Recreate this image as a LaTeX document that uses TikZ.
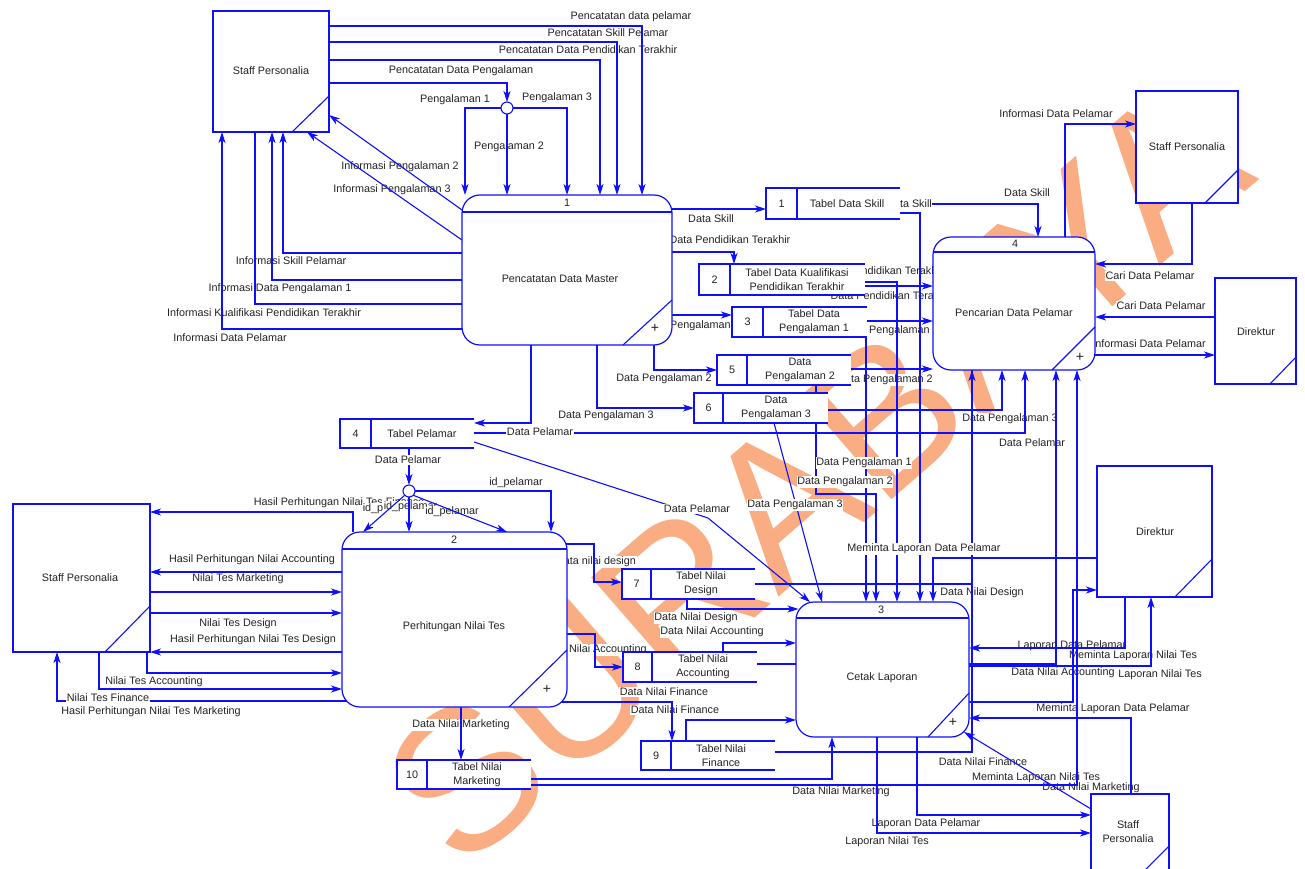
\documentclass[tikz,border=0pt]{standalone}
\usepackage{fontspec}
\setmainfont{Liberation Sans}
\usetikzlibrary{arrows.meta,fit}
\definecolor{dfd}{RGB}{15,15,252}
\definecolor{txt}{RGB}{35,35,35}
\definecolor{wm}{RGB}{250,172,130}
\pgfdeclarelayer{wmlayer}
\pgfdeclarelayer{lablayer}
\pgfdeclarelayer{labtop}
\pgfdeclarelayer{shapes}
\pgfsetlayers{wmlayer,lablayer,main,labtop,shapes}
% data store: name, x1, y1, x2, y2, divider x, number, text x, text
\newcommand\dstore[9]{%
  \node[store, fit={(#2,#3)(#4,#5)}] (#1) {};
  \draw[sline] (#1.north east) -- (#1.north west) -- (#1.south west) -- (#1.south east);
  \draw[sline] (#6,#3) -- (#6,#5);
  \node[tx] (#1n) at ({(#2+#6)/2},{(#3+#5)/2}) {#7};
  \node[tx] (#1t) at (#8,{(#3+#5)/2}) {#9};}
\begin{document}
\begin{tikzpicture}[x=1pt,y=-1pt,
  font=\fontsize{10.8}{14}\selectfont,
  ln/.style={draw=dfd, line width=1.1pt},
  fl/.style={ln, -{Stealth[length=11pt,width=7pt,inset=3pt]}},
  lb/.style={text=txt, fill=white, inner sep=0.6pt},
  tx/.style={text=txt, inner sep=0pt, align=center},
  ent/.style={draw=dfd, fill=white, line width=1.3pt, inner sep=0pt, outer sep=0pt},
  entb/.style={ent, line width=2.6pt},
  proc/.style={draw=dfd, fill=white, rounded corners=18pt, line width=1.2pt, inner sep=0pt, outer sep=0pt},
  store/.style={fill=white, inner sep=0pt, outer sep=0pt},
  sline/.style={draw=dfd, line width=1.2pt},
  jn/.style={circle, draw=dfd, fill=white, line width=1.1pt, minimum size=12pt, inner sep=0pt, outer sep=0pt},
  plus/.style={text=txt, inner sep=0pt, font=\fontsize{14}{14}\selectfont},
]
\useasboundingbox (0,0) rectangle (1305,869);

% ---------- watermark ----------
\begin{pgfonlayer}{wmlayer}
\node[text=wm, rotate=41, inner sep=0pt, font=\fontsize{200}{200}\selectfont] (wmark) at (815,475) {SURABAYA};
\end{pgfonlayer}

% ---------- shapes ----------
\begin{pgfonlayer}{shapes}
% external entities
\node[ent, fit={(213,11)(329,132)}] (E1) {};
\draw[ln] (E1.east |- 0,96) -- (292,0 |- E1.south);
\node[tx] (E1t) at (271,71) {Staff Personalia};

\node[ent, fit={(1136,91)(1238,203)}] (E2) {};
\draw[ln] (E2.east |- 0,170) -- (1205,0 |- E2.south);
\node[tx] (E2t) at (1187,147) {Staff Personalia};

\node[ent, fit={(1215,278)(1296,384)}] (E3) {};
\draw[ln] (E3.east |- 0,357) -- (1270,0 |- E3.south);
\node[tx] (E3t) at (1256,332) {Direktur};

\node[entb, fit={(13,504)(150,652)}] (E4) {};
\draw[ln] (E4.east |- 0,606) -- (105,0 |- E4.south);
\node[tx] (E4t) at (80,578) {Staff Personalia};

\node[entb, fit={(1097,466)(1212,597)}] (E5) {};
\draw[ln] (E5.east |- 0,559) -- (1175,0 |- E5.south);
\node[tx] (E5t) at (1155,532) {Direktur};

\node[entb, line width=2pt, fit={(1091,794)(1169,885)}] (E6) {};
\draw[ln] (E6.east |- 0,846) -- (1144,871);
\node[tx] (E6t) at (1128,832) {Staff\\Personalia};

% processes
\node[proc, fit={(462,195)(672,345)}] (P1) {};
\draw[ln] (P1.west |- 0,212) -- (P1.east |- 0,212);
\draw[ln] (P1.east |- 0,300) -- (623,0 |- P1.south);
\node[tx] (P1n) at (567,203) {1};
\node[tx] (P1t) at (560,279) {Pencatatan Data Master};
\node[plus] (P1p) at (655,328) {+};

\node[proc, fit={(933,237)(1095,370)}] (P4) {};
\draw[ln] (P4.west |- 0,252) -- (P4.east |- 0,252);
\draw[ln] (P4.east |- 0,327) -- (1052,0 |- P4.south);
\node[tx] (P4n) at (1015,244) {4};
\node[tx] (P4t) at (1014,313) {Pencarian Data Pelamar};
\node[plus] (P4p) at (1080,357) {+};

\node[proc, fit={(342,532)(567,707)}] (P2) {};
\draw[ln] (P2.west |- 0,549) -- (P2.east |- 0,549);
\draw[ln] (P2.east |- 0,650) -- (509,0 |- P2.south);
\node[tx] (P2n) at (454,540) {2};
\node[tx] (P2t) at (454,627) {Perhitungan Nilai Tes};
\node[plus] (P2p) at (547,689) {+};

\node[proc, fit={(796,602)(969,737)}] (P3) {};
\draw[ln] (P3.west |- 0,618) -- (P3.east |- 0,618);
\draw[ln] (P3.east |- 0,693) -- (928,0 |- P3.south);
\node[tx] (P3n) at (881,610) {3};
\node[tx] (P3t) at (882,678) {Cetak Laporan};
\node[plus] (P3p) at (953,722) {+};

% data stores
\dstore{T1}{766}{188}{900}{219}{797}{1}{847}{Tabel Data Skill}
\dstore{T2}{699}{264}{865}{295}{730}{2}{797}{Tabel Data Kualifikasi\\Pendidikan Terakhir}
\dstore{T3}{732}{307}{867}{337}{763}{3}{814}{Tabel Data\\Pengalaman 1}
\dstore{T5}{717}{355}{851}{385}{747}{5}{800}{Data\\Pengalaman 2}
\dstore{T6}{694}{393}{828}{423}{723}{6}{776}{Data\\Pengalaman 3}
\dstore{T4}{340}{419}{474}{448}{371}{4}{422}{Tabel Pelamar}
\dstore{T7}{622}{569}{755}{599}{651}{7}{701}{Tabel Nilai\\Design}
\dstore{T8}{623}{652}{757}{682}{652}{8}{703}{Tabel Nilai\\Accounting}
\dstore{T9}{641}{741}{775}{770}{671}{9}{721}{Tabel Nilai\\Finance}
\dstore{T10}{397}{760}{531}{789}{427}{10}{477}{Tabel Nilai\\Marketing}

% junctions
\node[jn] (J1) at (507,108) {};
\node[jn] (J2) at (409,491) {};
\end{pgfonlayer}

% ---------- flow labels ----------
\begin{pgfonlayer}{lablayer}
\node[lb] at (631,17) {Pencatatan data pelamar};
\node[lb] at (608,33) {Pencatatan Skill Pelamar};
\node[lb] at (588,50) {Pencatatan Data Pendidikan Terakhir};
\node[lb] at (461,71) {Pencatatan Data Pengalaman};
\node[lb] at (455,100) {Pengalaman 1};
\node[lb] at (557,98) {Pengalaman 3};
\node[lb] at (509,147) {Pengalaman 2};
\node[lb] at (400,167) {Informasi Pengalaman 2};
\node[lb] at (392,190) {Informasi Pengalaman 3};
\node[lb] at (291,261) {Informasi Skill Pelamar};
\node[lb] at (280,289) {Informasi Data Pengalaman 1};
\node[lb] at (264,313) {Informasi Kualifikasi Pendidikan Terakhir};
\node[lb] at (230,338) {Informasi Data Pelamar};
\node[lb] at (711,219) {Data Skill};
\node[lb] at (730,240) {Data Pendidikan Terakhir};
\node[lb] at (692,326) {Data Pengalaman 1};
\node[lb] at (664,379) {Data Pengalaman 2};
\node[lb] at (606,416) {Data Pengalaman 3};
\node[lb] at (1027,193) {Data Skill};
\node[lb] at (1056,114) {Informasi Data Pelamar};
\node[lb] at (883,271) {Data Pendidikan Terakhir};
\node[lb] at (891,296) {Data Pendidikan Terakhir};
\node[lb] at (891,331) {Data Pengalaman 1};
\node[lb] at (885,380) {Data Pengalaman 2};
\node[lb] at (1150,276) {Cari Data Pelamar};
\node[lb] at (1161,306) {Cari Data Pelamar};
\node[lb] at (1149,344) {Informasi Data Pelamar};
\node[lb] at (1010,419) {Data Pengalaman 3};
\node[lb] at (1032,443) {Data Pelamar};
\node[lb] at (516,483) {id\_pelamar};
\node[lb, anchor=west] at (253,503) {Hasil Perhitungan Nilai Tes Finance};
\node[lb, anchor=west] at (362,509) {id\_pelamar};
\node[lb, anchor=west] at (383,507) {id\_pelamar};
\node[lb] at (452,512) {id\_pelamar};
\node[lb] at (252,560) {Hasil Perhitungan Nilai Accounting};
\node[lb] at (238,579) {Nilai Tes Marketing};
\node[lb] at (238,624) {Nilai Tes Design};
\node[lb] at (253,640) {Hasil Perhitungan Nilai Tes Design};
\node[lb] at (154,682) {Nilai Tes Accounting};
\node[lb] at (151,712) {Hasil Perhitungan Nilai Tes Marketing};
\node[lb] at (596,562) {Data nilai design};
\node[lb] at (595,650) {Data Nilai Accounting};
\node[lb] at (696,618) {Data Nilai Design};
\node[lb] at (712,632) {Data Nilai Accounting};
\node[lb] at (664,692) {Data Nilai Finance};
\node[lb] at (675,710) {Data Nilai Finance};
\node[lb] at (461,725) {Data Nilai Marketing};
\node[lb] at (982,593) {Data Nilai Design};
\node[lb] at (1072,646) {Laporan Data Pelamar};
\node[lb] at (1133,656) {Meminta Laporan Nilai Tes};
\node[lb] at (1063,673) {Data Nilai Accounting};
\node[lb] at (1160,675) {Laporan Nilai Tes};
\node[lb] at (1113,709) {Meminta Laporan Data Pelamar};
\node[lb] at (983,762) {Data Nilai Finance};
\node[lb] at (841,792) {Data Nilai Marketing};
\node[lb] at (1036,778) {Meminta Laporan Nilai Tes};
\node[lb] at (1091,788) {Data Nilai Marketing};
\node[lb] at (926,824) {Laporan Data Pelamar};
\node[lb] at (887,842) {Laporan Nilai Tes};
\end{pgfonlayer}

\begin{pgfonlayer}{labtop}
\node[lb] at (540,432) {Data Pelamar};
\node[lb] at (408,460) {Data Pelamar};
\node[lb] at (909,204) {Data Skill};
\node[lb] at (108,698) {Nilai Tes Finance};
\node[lb] at (697,509) {Data Pelamar};
\node[lb] at (795,505) {Data Pengalaman 3};
\node[lb] at (864,463) {Data Pengalaman 1};
\node[lb] at (845,482) {Data Pengalaman 2};
\node[lb] at (924,549) {Meminta Laporan Data Pelamar};
\end{pgfonlayer}

% ---------- flows ----------
% staff personalia <-> pencatatan data master
\draw[fl] (E1.east |- 0,26) -| (642,0 |- P1.north);
\draw[fl] (E1.east |- 0,42) -| (617,0 |- P1.north);
\draw[fl] (E1.east |- 0,60) -| (600,0 |- P1.north);
\draw[fl] (E1.east |- 0,83) -| (J1.north);
\draw[fl] (J1.west) -| (465,0 |- P1.north);
\draw[fl] (J1.east) -| (567,0 |- P1.north);
\draw[fl] (J1.south) -- (J1.south |- P1.north);
\draw[fl] (P1.west |- 0,210) -- (E1.east |- 0,115);
\draw[fl] (P1.west |- 0,240) -- (307,0 |- E1.south);
\draw[fl] (P1.west |- 0,253) -| (283,0 |- E1.south);
\draw[fl] (P1.west |- 0,280) -| (272,0 |- E1.south);
\draw[ln] (P1.west |- 0,304) -| (255,0 |- E1.south);
\draw[fl] (P1.west |- 0,329) -| (222,0 |- E1.south);

% pencatatan data master -> stores
\draw[fl] (P1.east |- 0,209) -- (T1.west |- 0,209);
\draw[fl] (P1.east |- 0,252) -| (734,0 |- T2.north);
\draw[fl] (P1.east |- 0,315) -- (T3.west |- 0,315);
\draw[fl] (654,0 |- P1.south) |- (T5.west |- 0,370);
\draw[fl] (597,0 |- P1.south) |- (T6.west |- 0,408);
\draw[fl] (531,0 |- P1.south) |- (T4.east |- 0,423);

% stores -> pencarian / cetak laporan
\draw[fl] (T1.east |- 0,204) -| (1038,0 |- P4.north);
\draw[fl] (T1.east |- 0,213) -| (920,0 |- P3.north);
\draw[fl] (T2.east |- 0,286) -- (P4.west |- 0,286);
\draw[fl] (T2.east |- 0,282) -| (897,0 |- P3.north);
\draw[fl] (T3.east |- 0,321) -- (P4.west |- 0,321);
\draw[fl] (866,0 |- T3.south) -- (866,0 |- P3.north);
\draw[fl] (T5.east |- 0,369) -- (P4.west |- 0,369);
\draw[fl] (816,0 |- T5.south) |- (876,494) -- (876,0 |- P3.north);
\draw[fl] (T6.east |- 0,410) -| (1002,0 |- P4.south);
\draw[fl] (774,0 |- T6.south) -- (822,0 |- P3.north);
\draw[fl] (T4.east |- 0,433) -| (1025,0 |- P4.south);
\draw[fl] (T4.east |- 0,442) -- (708,518) -- (810,0 |- P3.north);

% tabel pelamar -> perhitungan nilai tes
\draw[fl] (409,0 |- T4.south) -- (J2.north);
\draw[fl] (J2.south west) -- (363,0 |- P2.north);
\draw[fl] (J2.south) -- (J2.south |- P2.north);
\draw[fl] (J2.south east) -- (507,0 |- P2.north);
\draw[fl] (J2.east) -| (551,0 |- P2.north);

% perhitungan nilai tes <-> staff personalia
\draw[fl] (353,0 |- P2.north) |- (E4.east |- 0,512);
\draw[fl] (P2.west |- 0,572) -- (E4.east |- 0,572);
\draw[fl] (E4.east |- 0,592) -- (P2.west |- 0,592);
\draw[fl] (E4.east |- 0,613) -- (P2.west |- 0,613);
\draw[fl] (P2.west |- 0,652) -- (E4.east |- 0,652);
\draw[fl] (147,0 |- E4.south) |- (P2.west |- 0,673);
\draw[fl] (99,0 |- E4.south) |- (P2.west |- 0,689);
\draw[fl] ([xshift=8pt]P2.west |- 0,701) -| (57,0 |- E4.south);

% perhitungan nilai tes -> stores
\draw[fl] ([xshift=-8pt]P2.east |- 0,544) -| (594,582) -- (T7.west |- 0,582);
\draw[fl] (P2.east |- 0,634) -| (595,667) -- (T8.west |- 0,667);
\draw[fl] ([xshift=-8pt]P2.east |- 0,702) -| (672,0 |- T9.north);
\draw[fl] (461,0 |- P2.south) -- (461,0 |- T10.north);

% nilai stores -> cetak laporan / pencarian
\draw[fl] (687,0 |- T7.south) |- ([xshift=2.5pt]P3.west |- 0,609);
\draw[fl] (723,0 |- T8.north) |- (P3.west |- 0,643);
\draw[fl] (T8.east |- 0,664) -| (1056,0 |- P4.south);
\draw[fl] (686,0 |- T9.north) |- (P3.west |- 0,720);
\draw[fl] (T7.east |- 0,584) -| (972,0 |- P4.south);
\draw[ln] (T9.east |- 0,752) -| (972,0 |- P4.south);
\draw[fl] (T10.east |- 0,779) -| (832,0 |- P3.south);
\draw[fl] (T10.east |- 0,785) -| (1077,0 |- P4.south);

% pencarian data pelamar <-> entities
\draw[fl] (1065,0 |- P4.north) |- (E2.west |- 0,124);
\draw[fl] (1192,0 |- E2.south) |- (P4.east |- 0,264);
\draw[fl] (E3.west |- 0,317) -- (P4.east |- 0,317);
\draw[fl] (P4.east |- 0,355) -- (E3.west |- 0,355);

% cetak laporan <-> entities
\draw[fl] (E5.west |- 0,558) -| (933,0 |- P3.north);
\draw[fl] (1125,0 |- E5.south) |- (P3.east |- 0,648);
\draw[fl] (P3.east |- 0,666) -| (1151,0 |- E5.south);
\draw[fl] (P3.east |- 0,702) -| (1073,590) -- (E5.west |- 0,590);
\draw[fl] (1131,0 |- E6.north) |- (P3.east |- 0,718);
\draw[fl] (E6.west |- 0,809) -- (964,732);
\draw[fl] (917,0 |- P3.south) |- (E6.west |- 0,815);
\draw[fl] (877,0 |- P3.south) |- (E6.west |- 0,833);
\end{tikzpicture}
\end{document}
